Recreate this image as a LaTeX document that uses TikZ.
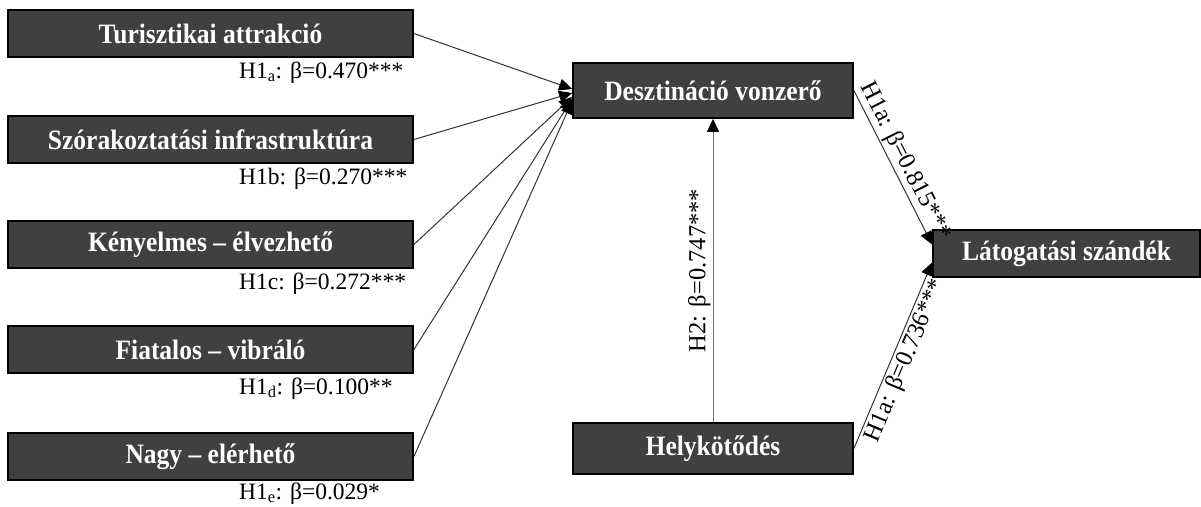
\documentclass[tikz,border=0pt]{standalone}
\usepackage{graphicx}
\usepackage{fontspec}
\setmainfont{Liberation Serif}
\usetikzlibrary{arrows.meta}
\definecolor{boxfill}{HTML}{404040}
\newcommand{\vstretch}[1]{\scalebox{1}[1.1]{#1}}
\begin{document}
\begin{tikzpicture}[x=1pt,y=-1pt,
  box/.style={draw=black, line width=1.8pt, fill=boxfill, text=white,
    font=\fontsize{25.5}{30}\selectfont\bfseries, inner sep=0pt},
  lbl/.style={font=\fontsize{23.5}{28}\selectfont, anchor=base west, inner sep=0pt},
  conn/.style={draw=black!80, line width=1pt, -{Triangle[length=13pt,width=12pt,fill=black,color=black]}},
  slab/.style={font=\fontsize{24.5}{28}\selectfont, sloped, inner sep=2pt}]
\useasboundingbox (0,0) rectangle (1201,506);
% left boxes
\node[box, minimum width=405pt, minimum height=47pt] (t1) at (210.5,33.5) {\vstretch{Turisztikai attrakció}};
\node[box, minimum width=405pt, minimum height=47pt] (t2) at (210.5,139.5) {\vstretch{Szórakoztatási infrastruktúra}};
\node[box, minimum width=405pt, minimum height=47pt] (t3) at (210.5,244.5) {\vstretch{Kényelmes – élvezhető}};
\node[box, minimum width=405pt, minimum height=47pt] (t4) at (210.5,349.5) {\vstretch{Fiatalos – vibráló}};
\node[box, minimum width=405pt, minimum height=47pt] (t5) at (210.5,456.5) {\vstretch{Nagy – elérhető}};
% labels under left boxes
\node[lbl] (l1) at (239,78) {H1\textsubscript{a}: β=0.470***};
\node[lbl] (l2) at (239,184) {H1b: β=0.270***};
\node[lbl] (l3) at (239,289) {H1c: β=0.272***};
\node[lbl] (l4) at (239,394) {H1\textsubscript{d}: β=0.100**};
\node[lbl] (l5) at (239,499) {H1\textsubscript{e}: β=0.029*};
% middle and right boxes
\node[box, minimum width=280pt, minimum height=55pt] (d) at (713,90.5) {\vstretch{Desztináció vonzerő}};
\node[box, minimum width=280pt, minimum height=51pt] (h) at (713,448.5) {\vstretch{Helykötődés}};
\node[box, minimum width=267pt, minimum height=47pt] (l) at (1066.5,253.5) {\vstretch{Látogatási szándék}};
% connectors into Desztinacio
\draw[conn] (t1.east) -- ([yshift=1.5pt]d.west);
\draw[conn] (t2.east) -- ([yshift=-2.5pt]d.west);
\draw[conn] (t3.east) -- ([yshift=-6.5pt]d.west);
\draw[conn] (t4.east) -- ([yshift=-8.5pt]d.west);
\draw[conn] (t5.east) -- ([yshift=-10.5pt]d.west);
% H2
\draw[conn, draw=black!55] (h.north) -- node[slab, midway, above] {H2: β=0.747***} (d.south);
% to Latogatasi
\draw[conn] (d.east) -- node[slab, pos=0.5, above] {H1a: β=0.815***} ([yshift=9pt]l.west);
\draw[conn] (h.east) -- node[slab, pos=0.5, below] {H1a: β=0.736***} ([yshift=-9pt]l.west);
\end{tikzpicture}
\end{document}
